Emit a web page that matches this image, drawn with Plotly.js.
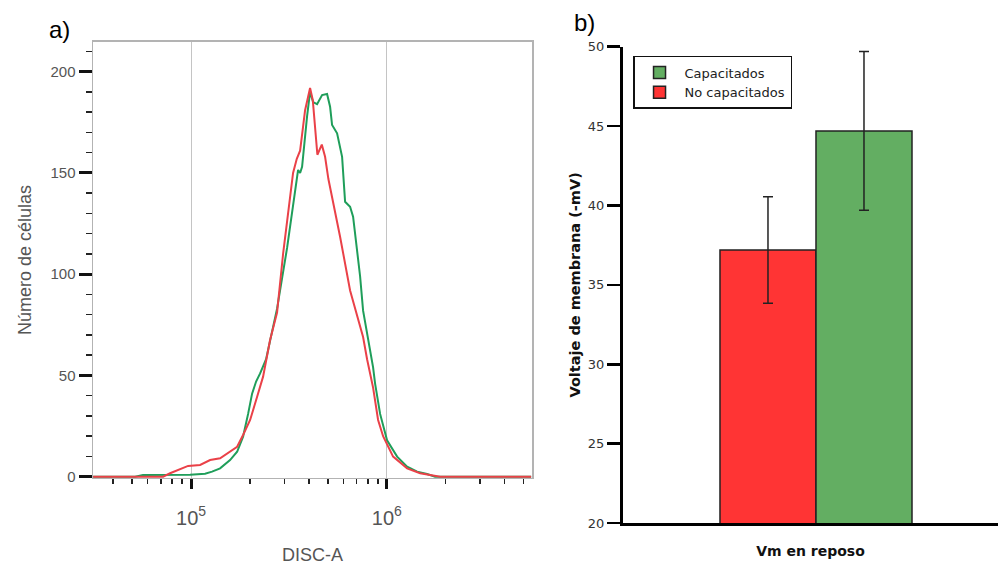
<!DOCTYPE html>
<html>
<head>
<meta charset="utf-8">
<script src="https://cdn.plot.ly/plotly-3.0.1.min.js"></script>
<style>html,body{margin:0;padding:0;background:#fff;}#chart{width:998px;height:565px;}</style>
</head>
<body>
<div id="chart"></div>
<script>
// ---- Panel a) histogram data (DISC-A vs number of cells) ----
const discA_cap = [31600, 51730, 56850, 98830, 117900, 128000, 140700, 158200, 171900, 184400, 195600, 205000, 214900, 225300, 241700, 275000, 309400, 339900, 352200, 360600, 369100, 391400, 405500, 420100, 440300, 467000, 495200, 513200, 525400, 557200, 570500, 591000, 612200, 649300, 672600, 700000, 730400, 756600, 802500, 851100, 871300, 924300, 1003000, 1129000, 1270000, 1429000, 1606000, 1765000, 5464000];
const count_cap = [0, 0, 0.8, 0.9, 1.5, 2.5, 4.1, 8.2, 12.3, 19.8, 31, 41, 47, 51, 58, 83, 113, 143, 151.5, 150, 153, 178, 190, 185, 184, 188.5, 189, 182.7, 173.7, 169.6, 165.4, 158, 135.8, 133.3, 128.4, 113.6, 99, 82, 67.5, 54, 46, 31, 18, 9.9, 4.9, 2.5, 1.3, 0, 0];

const discA_nocap = [31600, 71930, 78120, 87870, 96540, 111200, 125100, 140700, 158200, 171900, 184400, 200300, 217500, 233300, 253300, 275000, 295200, 313100, 332000, 346800, 360600, 382400, 405500, 418700, 441900, 465500, 483800, 503000, 533400, 577200, 649300, 705000, 756600, 793000, 851100, 902600, 957400, 1077000, 1270000, 1480000, 1724000, 1873000, 5464000];
const count_nocap = [0, 0, 1.7, 3.6, 5.3, 5.8, 8.2, 9.1, 12.3, 14.8, 20.6, 28, 39.5, 49.4, 67.5, 81, 110, 131, 150, 157, 161, 181, 192, 186, 159, 164, 158, 147, 135, 118.5, 92, 80, 69, 58, 44, 28, 20, 9.9, 4.1, 1.7, 0.8, 0, 0];

// ---- Panel b) bar data (resting membrane voltage, -mV) ----
const barCategory = ['Vm en reposo'];
const seriesNames = ['No capacitados', 'Capacitados'];
const mean_nocap = [37.2];
const err_nocap = [3.35];
const mean_cap = [44.7];
const err_cap = [5.0];

const leftFont = 'Liberation Sans, Arial, sans-serif';
const rightFont = 'DejaVu Sans, Verdana, sans-serif';

const traces = [
  {x: discA_cap, y: count_cap, type: 'scatter', mode: 'lines', xaxis: 'x', yaxis: 'y',
   line: {color: '#1f9e5a', width: 2}, showlegend: false, hoverinfo: 'skip'},
  {x: discA_nocap, y: count_nocap, type: 'scatter', mode: 'lines', xaxis: 'x', yaxis: 'y',
   line: {color: '#ea4148', width: 2}, showlegend: false, hoverinfo: 'skip'},
  {x: barCategory, y: mean_nocap, name: seriesNames[0], type: 'bar', xaxis: 'x2', yaxis: 'y2',
   marker: {color: '#ff3434', line: {color: '#222', width: 1.5}},
   error_y: {type: 'data', array: err_nocap, visible: true, color: '#222', thickness: 1.5, width: 5}},
  {x: barCategory, y: mean_cap, name: seriesNames[1], type: 'bar', xaxis: 'x2', yaxis: 'y2',
   marker: {color: '#63ae62', line: {color: '#222', width: 1.5}},
   error_y: {type: 'data', array: err_cap, visible: true, color: '#222', thickness: 1.5, width: 5}}
];

const layout = {
  width: 998, height: 565,
  margin: {l: 0, r: 0, t: 0, b: 0},
  paper_bgcolor: '#fff', plot_bgcolor: '#fff',
  barmode: 'group', bargap: 0.488, bargroupgap: 0,
  showlegend: true,
  legend: {x: 0.6343, y: 0.9009, xanchor: 'left', yanchor: 'top', traceorder: 'reversed',
           bordercolor: '#111', borderwidth: 1.5, bgcolor: '#fff', itemwidth: 40,
           font: {family: rightFont, size: 13, color: '#222'}, tracegroupgap: 0},
  xaxis: {
    domain: [0.0932, 0.5331], anchor: 'y', type: 'log', range: [4.499, 6.742],
    tickmode: 'linear', tick0: 0, dtick: 1, exponentformat: 'power',
    showgrid: true, gridcolor: '#c4c4c4', gridwidth: 1, zeroline: false,
    showline: true, linecolor: '#b3b3b3', linewidth: 1.5, mirror: true,
    ticks: 'outside', ticklen: 10, tickwidth: 3, tickcolor: '#111', ticklabelstandoff: 12,
    minor: {dtick: 'D1', ticks: 'outside', ticklen: 5, tickwidth: 1.5, tickcolor: '#222', showgrid: false},
    tickfont: {family: leftFont, size: 16, color: '#555'},
    title: {text: 'DISC-A', font: {family: leftFont, size: 18, color: '#555'}, standoff: 26}
  },
  yaxis: {
    domain: [0.154, 0.9257], anchor: 'x', range: [-0.65, 214.7],
    tickmode: 'linear', tick0: 0, dtick: 50,
    showgrid: false, zeroline: false,
    showline: true, linecolor: '#b3b3b3', linewidth: 1.5, mirror: true,
    ticks: 'outside', ticklen: 13, tickwidth: 3, tickcolor: '#111',
    minor: {dtick: 10, ticks: 'outside', ticklen: 6, tickwidth: 1.5, tickcolor: '#222', showgrid: false},
    tickfont: {family: leftFont, size: 15, color: '#555'},
    title: {text: 'Número de células', font: {family: leftFont, size: 18, color: '#555'}, standoff: 14}
  },
  xaxis2: {
    domain: [0.6242, 1], anchor: 'y2', type: 'category', range: [-0.5147, 0.4853],
    showgrid: false, zeroline: false, showline: true, linecolor: '#000', linewidth: 3,
    ticks: '', showticklabels: false,
    title: {text: 'Vm en reposo', font: {family: rightFont, size: 14, color: '#111', weight: 'bold'}, standoff: 22}
  },
  yaxis2: {
    domain: [0.0743, 0.9173], anchor: 'x2', range: [20, 50],
    tickmode: 'linear', tick0: 20, dtick: 5,
    showgrid: false, zeroline: false, showline: true, linecolor: '#000', linewidth: 3,
    ticks: 'outside', ticklen: 13, tickwidth: 2.5, tickcolor: '#000',
    tickfont: {family: rightFont, size: 13, color: '#333'},
    title: {text: 'Voltaje de membrana (-mV)', font: {family: rightFont, size: 14.5, color: '#111', weight: 'bold'}, standoff: 4}
  },
  annotations: [
    {text: 'a)', xref: 'paper', yref: 'paper', x: 0.06, y: 0.947, xanchor: 'center', yanchor: 'middle',
     showarrow: false, font: {family: leftFont, size: 24, color: '#000'}},
    {text: 'b)', xref: 'paper', yref: 'paper', x: 0.586, y: 0.961, xanchor: 'center', yanchor: 'middle',
     showarrow: false, font: {family: leftFont, size: 24, color: '#000'}}
  ]
};

Plotly.newPlot('chart', traces, layout, {displayModeBar: false, staticPlot: true});
</script>
</body>
</html>
